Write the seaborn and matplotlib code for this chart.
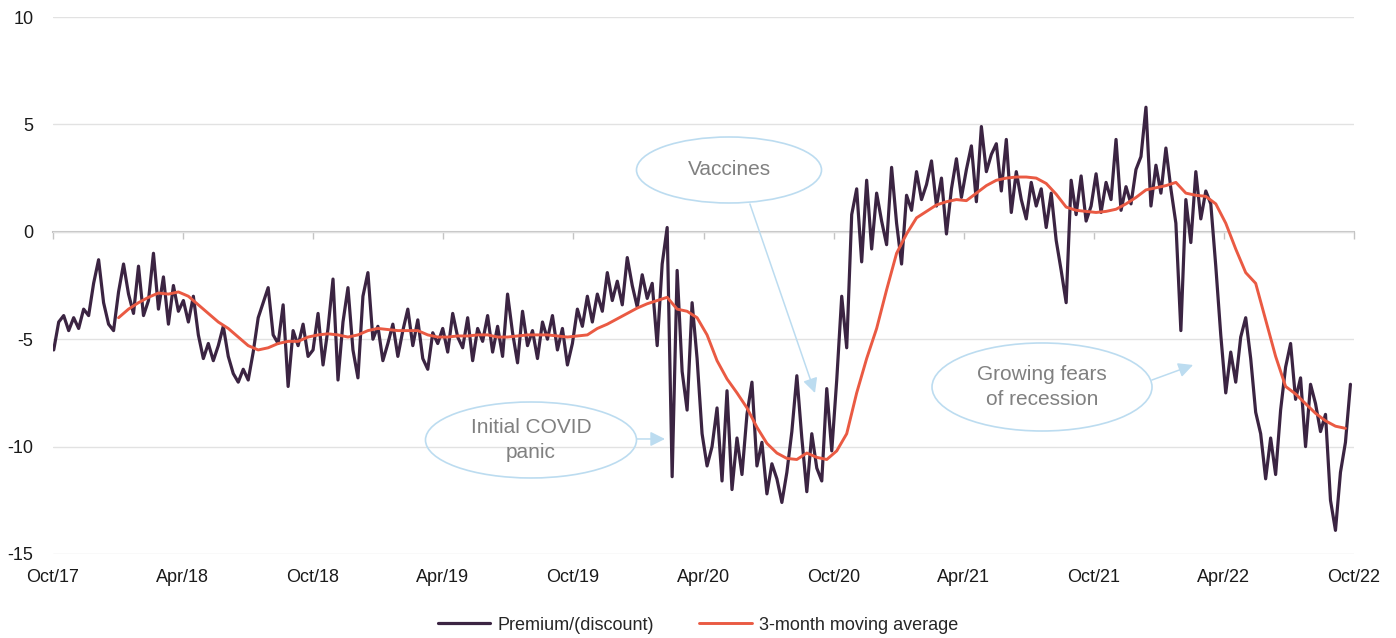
import matplotlib
matplotlib.use('Agg')
import matplotlib.pyplot as plt
import matplotlib.dates as mdates
from matplotlib.patches import Ellipse
import seaborn as sns
import pandas as pd

# weekly premium/(discount) readings, Oct 2017 - Sep 2022 (%)
prem_17h2 = [-5.5, -4.2, -3.9, -4.6, -4.0, -4.5, -3.6, -3.9, -2.4, -1.3, -3.3, -4.3, -4.6,
             -2.8, -1.5, -2.9, -3.8, -1.6, -3.9, -3.2, -1.0, -3.6, -2.1, -4.3, -2.5, -3.7]
prem_18h1 = [-3.2, -4.2, -3.0, -4.8, -5.9, -5.2, -6.0, -5.3, -4.4, -5.8, -6.6, -7.0, -6.4,
             -6.9, -5.6, -4.0, -3.3, -2.6, -4.8, -5.2, -3.4, -7.2, -4.6, -5.3, -4.3, -5.8]
prem_18h2 = [-5.5, -3.8, -6.2, -4.5, -2.2, -6.9, -4.2, -2.6, -5.5, -6.8, -3.0, -1.9, -5.0,
             -4.4, -6.0, -5.2, -4.3, -5.8, -4.6, -3.6, -5.3, -4.1, -5.9, -6.4, -4.7, -5.2]
prem_19h1 = [-4.5, -5.6, -3.8, -4.9, -5.4, -4.0, -6.0, -4.5, -5.1, -3.9, -5.6, -4.4, -5.8,
             -2.9, -4.7, -6.1, -3.7, -5.3, -4.6, -5.9, -4.2, -5.0, -3.9, -5.5, -4.5, -6.2]
prem_19h2 = [-5.2, -3.6, -4.4, -3.0, -4.2, -2.9, -3.7, -1.9, -3.2, -2.3, -3.4, -1.2, -2.5,
             -3.5, -2.0, -3.1, -2.4, -5.3, -1.5, 0.2, -11.4, -1.8, -6.5, -8.3, -3.3, -5.9]
prem_20h1 = [-9.4, -10.9, -10.0, -8.2, -11.6, -7.4, -12.0, -9.6, -11.3, -8.5, -7.0, -10.9, -9.8,
             -12.2, -10.8, -11.5, -12.6, -11.2, -9.3, -6.7, -9.6, -12.1, -9.4, -11.0, -11.6, -7.3]
prem_20h2 = [-10.2, -6.9, -3.0, -5.4, 0.8, 2.0, -1.4, 2.4, -0.8, 1.8, 0.5, -0.6, 3.0,
             0.4, -1.5, 1.7, 1.0, 2.8, 1.5, 2.2, 3.3, 1.2, 2.5, -0.1, 2.0, 3.4]
prem_21h1 = [1.6, 2.9, 4.0, 1.4, 4.9, 2.8, 3.6, 4.1, 1.9, 4.3, 0.9, 2.8, 1.5,
             0.6, 2.3, 1.2, 2.0, 0.2, 1.8, -0.4, -1.8, -3.3, 2.4, 0.8, 2.6, 0.5]
prem_21h2 = [1.2, 2.7, 0.9, 2.3, 1.5, 4.3, 1.0, 2.1, 1.3, 2.9, 3.5, 5.8, 1.2,
             3.1, 1.8, 3.9, 2.0, 0.4, -4.6, 1.5, -0.5, 2.8, 0.6, 1.9, 1.3, -1.6]
prem_22h1 = [-4.8, -7.5, -5.6, -7.0, -4.9, -4.0, -5.9, -8.4, -9.4, -11.5, -9.6, -11.3, -8.3,
             -6.3, -5.2, -7.8, -6.8, -10.0, -7.1, -8.0, -9.3, -8.5, -12.5, -13.9, -11.2, -9.8, -7.1]

# 3-month moving average, fortnightly readings from Jan 2018 (%)
ma_values = [-4.0, -3.6, -3.3, -3.05, -2.85, -2.9, -2.8, -3.0, -3.4, -3.8, -4.2, -4.5, -4.9,
             -5.3, -5.5, -5.4, -5.2, -5.1, -5.1, -4.9, -4.8, -4.75, -4.8, -4.9, -4.8, -4.6,
             -4.5, -4.55, -4.6, -4.6, -4.6, -4.8, -4.9, -4.9, -4.85, -4.85, -4.8, -4.8, -4.9,
             -4.9, -4.85, -4.8, -4.8, -4.8, -4.85, -4.9, -4.85, -4.8, -4.5, -4.3, -4.05, -3.8,
             -3.55, -3.35, -3.2, -3.05, -3.6, -3.7, -4.0, -4.8, -6.0, -6.85, -7.5, -8.2, -9.1,
             -9.85, -10.3, -10.55, -10.6, -10.3, -10.5, -10.6, -10.2, -9.4, -7.5, -5.9, -4.5,
             -2.7, -1.0, -0.1, 0.65, 0.95, 1.25, 1.4, 1.5, 1.45, 1.8, 2.15, 2.4, 2.5, 2.55,
             2.55, 2.5, 2.25, 1.75, 1.15, 1.0, 0.95, 0.9, 0.95, 1.05, 1.3, 1.6, 1.95, 2.05,
             2.15, 2.3, 1.8, 1.7, 1.65, 1.3, 0.4, -0.8, -1.9, -2.4, -4.1, -5.8, -7.2, -7.55,
             -8.0, -8.45, -8.8, -9.05, -9.15]

tick_labels = ['Oct/17', 'Apr/18', 'Oct/18', 'Apr/19', 'Oct/19', 'Apr/20',
               'Oct/20', 'Apr/21', 'Oct/21', 'Apr/22', 'Oct/22']

PURPLE = '#3b2442'
RED = '#ea5a43'
BLUE = '#bcdcf0'
GREY_TEXT = '#808080'


def add_callout(ax, text, centre, size, tail, head):
    ax.add_patch(Ellipse(centre, size[0], size[1], transform=ax.transAxes, fill=False,
                         edgecolor=BLUE, lw=1.2, clip_on=False, zorder=5))
    ax.text(centre[0], centre[1], text, transform=ax.transAxes, ha='center', va='center',
            fontsize=15, color=GREY_TEXT, linespacing=1.45, zorder=6)
    ax.annotate('', xy=head, xytext=tail, xycoords='axes fraction', textcoords='axes fraction',
                arrowprops=dict(arrowstyle='-|>', color=BLUE, lw=1.1, mutation_scale=22,
                                shrinkA=0, shrinkB=0), zorder=6)


def main():
    sns.set_style('white')
    plt.rcParams['font.family'] = ['Liberation Sans', 'DejaVu Sans']
    plt.rcParams['axes.unicode_minus'] = False

    premium = (prem_17h2 + prem_18h1 + prem_18h2 + prem_19h1 + prem_19h2 +
               prem_20h1 + prem_20h2 + prem_21h1 + prem_21h2 + prem_22h1)
    df = pd.DataFrame({'date': pd.date_range('2017-10-02', periods=len(premium), freq='7D'),
                       'value': premium})
    df_ma = pd.DataFrame({'date': pd.date_range('2018-01-01', periods=len(ma_values), freq='14D'),
                          'value': ma_values})

    fig = plt.figure(figsize=(13.96, 6.38), dpi=100)
    ax = fig.add_axes([53 / 1396, 84 / 638, 1301 / 1396, 537 / 638])

    sns.lineplot(data=df, x='date', y='value', ax=ax, color=PURPLE, lw=2.3,
                 label='Premium/(discount)')
    sns.lineplot(data=df_ma, x='date', y='value', ax=ax, color=RED, lw=2.1,
                 label='3-month moving average')

    ticks = pd.date_range('2017-10-01', periods=len(tick_labels), freq='6MS')
    ax.set_xlim(ticks[0], ticks[-1])
    ax.set_ylim(-15, 10)
    ax.set_yticks(range(-15, 11, 5))
    ax.set_xticks(ticks)
    ax.set_xticklabels(tick_labels)
    ax.set_xlabel('')
    ax.set_ylabel('')
    ax.yaxis.grid(True, color='#e2e2e2', lw=1)
    ax.set_axisbelow(True)
    for s in ax.spines.values():
        s.set_visible(False)
    ax.tick_params(axis='both', length=0, labelsize=13, colors='#1a1a1a')
    ax.tick_params(axis='y', pad=14)
    ax.tick_params(axis='x', pad=11)

    # zero line with tick marks
    sec = ax.secondary_xaxis(0, transform=ax.transData)
    sec.set_xticks(mdates.date2num(ticks))
    sec.tick_params(length=5, width=1, color='#c4c4c4', labelbottom=False)
    sec.spines['bottom'].set_color('#c4c4c4')
    sec.spines['bottom'].set_linewidth(1.5)

    add_callout(ax, 'Vaccines', (0.5196, 0.7151), (0.1422, 0.1229),
                (0.5357, 0.6518), (0.5857, 0.2998))
    add_callout(ax, 'Initial COVID\npanic', (0.3674, 0.2123), (0.1622, 0.1415),
                (0.4489, 0.2142), (0.4704, 0.2142))
    add_callout(ax, 'Growing fears\nof recession', (0.7602, 0.3110), (0.1691, 0.1639),
                (0.8447, 0.3240), (0.8763, 0.3520))

    handles, labels = ax.get_legend_handles_labels()
    ax.get_legend().remove()
    fig.legend(handles, labels, loc='center', bbox_to_anchor=(0.5, 13 / 638), ncol=2,
               frameon=False, fontsize=13, handlelength=2.9, columnspacing=2.5,
               handletextpad=0.4)

    fig.savefig('out.png', dpi=100)


if __name__ == '__main__':
    main()
